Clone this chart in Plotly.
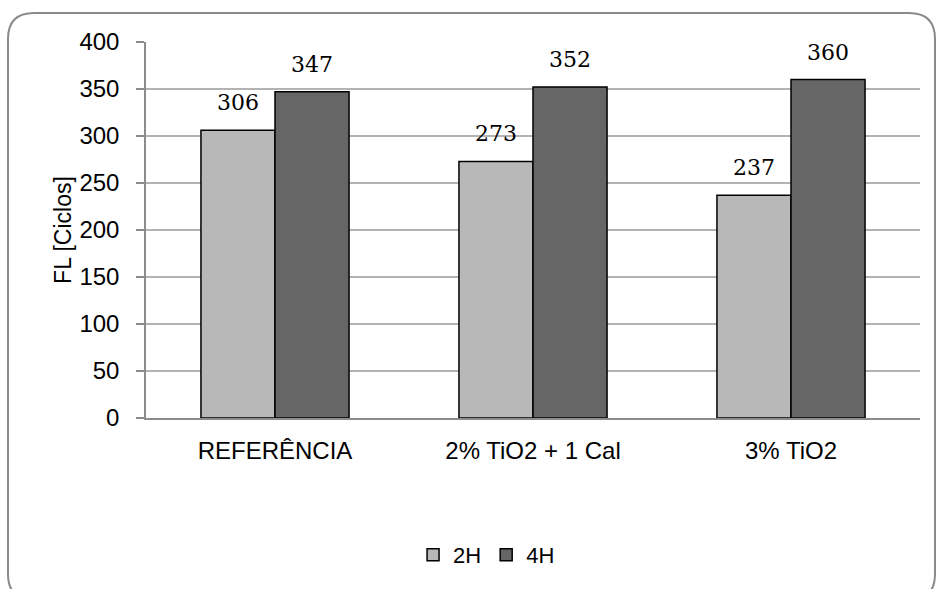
import plotly.graph_objects as go

categories = ["REFERÊNCIA", "2% TiO2 + 1 Cal", "3% TiO2"]
series_names = ["2H", "4H"]
values_2h = [306, 273, 237]
values_4h = [347, 352, 360]
y_ticks = [0, 50, 100, 150, 200, 250, 300, 350, 400]

colors = {"2H": "#b8b8b8", "4H": "#666666"}

W, H = 939, 589
ML, MR, MT, MB = 146, 19, 42, 171
PW, PH = W - ML - MR, H - MT - MB

fig = go.Figure()
for name, vals in zip(series_names, [values_2h, values_4h]):
    fig.add_trace(go.Bar(
        name=name, x=categories, y=vals,
        marker=dict(color=colors[name], line=dict(color="#000000", width=1.5)),
    ))

# value labels above each bar
bar_px = PW / len(categories) * (1 - 0.426) / 2
for shift, vals in zip([-bar_px / 2, bar_px / 2], [values_2h, values_4h]):
    for c, v in zip(categories, vals):
        fig.add_annotation(
            x=c, y=v, text=str(v), showarrow=False, xshift=shift, yshift=13,
            yanchor="bottom", font=dict(family="DejaVu Serif", size=22, color="#000000"),
        )

# rounded outer frame, drawn in paper coordinates
def px_to_paper(px, py):
    return (px - ML) / PW, (H - MB - py) / PH

x0, y0, x1, y1, r = 8, 13, 935, 600, 26
pts = [
    ("M", [(x0, y0 + r)]),
    ("Q", [(x0, y0), (x0 + r, y0)]),
    ("L", [(x1 - r, y0)]),
    ("Q", [(x1, y0), (x1, y0 + r)]),
    ("L", [(x1, y1 - r)]),
    ("Q", [(x1, y1), (x1 - r, y1)]),
    ("L", [(x0 + r, y1)]),
    ("Q", [(x0, y1), (x0, y1 - r)]),
]
path = ""
for cmd, coords in pts:
    path += cmd + " " + " ".join("%.5f,%.5f" % px_to_paper(a, b) for a, b in coords) + " "
path += "Z"
fig.add_shape(type="path", path=path, xref="paper", yref="paper",
              line=dict(color="#8a8a8a", width=2), fillcolor="rgba(0,0,0,0)", layer="below")

fig.update_layout(
    width=W, height=H,
    margin=dict(l=ML, r=MR, t=MT, b=MB, autoexpand=False),
    paper_bgcolor="white", plot_bgcolor="white",
    barmode="group", bargap=0.426, bargroupgap=0,
    font=dict(family="Liberation Sans", size=24, color="#000000"),
    showlegend=True,
    legend=dict(orientation="h", x=0.44, xanchor="center", y=-0.364, yanchor="middle",
                font=dict(size=22), itemwidth=30, tracegroupgap=0),
)
fig.update_yaxes(
    range=[0, 400], tickvals=y_ticks, showgrid=True, gridcolor="#b3b3b3", gridwidth=1.5,
    showline=True, linecolor="#8c8c8c", linewidth=1.5, ticks="outside", ticklen=8,
    tickcolor="#8c8c8c", tickwidth=1.5, zeroline=False, ticklabelstandoff=12,
    title=dict(text="FL [Ciclos]", font=dict(size=23), standoff=1),
)
fig.update_xaxes(
    showline=True, linecolor="#8c8c8c", linewidth=1.5, ticks="", showgrid=False,
    tickfont=dict(size=24), ticklabelstandoff=10,
)

fig.write_html("out.html")
